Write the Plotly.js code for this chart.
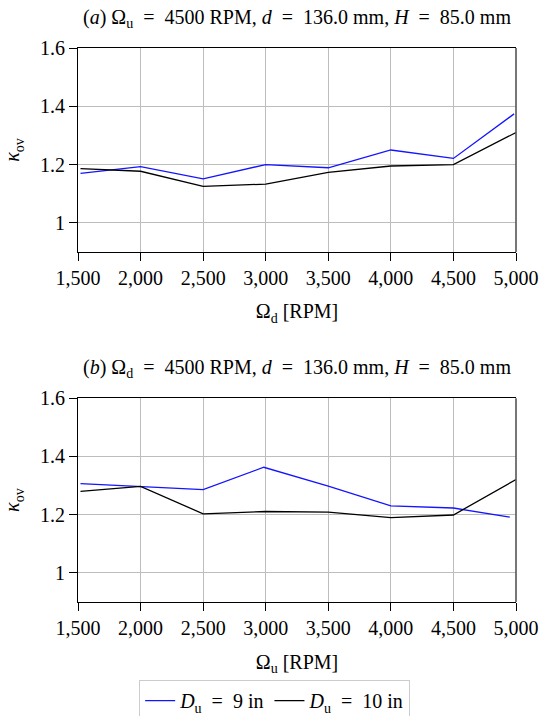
<!DOCTYPE html>
<html>
<head>
<meta charset="utf-8">
<script src="https://cdn.plot.ly/plotly-3.0.1.min.js"></script>
<style>
  html, body { margin: 0; padding: 0; background: #fff; }
  #chart { width: 540px; height: 716px; }
</style>
</head>
<body>
<div id="chart"></div>
<script>
// (a) sweep of the downstream speed, upstream fixed at 4500 RPM
const speedA_9in  = [1520, 2000, 2500, 3000, 3500, 4000, 4500, 4985];
const kappaA_9in  = [1.170, 1.193, 1.151, 1.200, 1.189, 1.250, 1.221, 1.374];
const speedA_10in = [1520, 2000, 2500, 3000, 3500, 4000, 4500, 5000];
const kappaA_10in = [1.186, 1.177, 1.125, 1.133, 1.173, 1.195, 1.200, 1.310];

// (b) sweep of the upstream speed, downstream fixed at 4500 RPM
const speedB_9in  = [1520, 2000, 2500, 2985, 3500, 4000, 4500, 4950];
const kappaB_9in  = [1.307, 1.297, 1.286, 1.363, 1.298, 1.230, 1.223, 1.192];
const speedB_10in = [1520, 2000, 2500, 3000, 3500, 4000, 4500, 5000];
const kappaB_10in = [1.280, 1.297, 1.203, 1.211, 1.209, 1.190, 1.199, 1.321];

// wider spacing around "=" as in typeset math
const EQ = '\u2002=\u2002';

const seriesNames = ['<i>D</i><sub>u</sub>' + EQ + '9 in', '<i>D</i><sub>u</sub>' + EQ + '10 in'];
const seriesColors = ['#1414ff', '#000000'];

const FONT = '"Liberation Serif", serif';
const FS = 20;

const traces = [
  { x: speedA_9in,  y: kappaA_9in,  xaxis: 'x',  yaxis: 'y',  name: seriesNames[0], showlegend: true },
  { x: speedA_10in, y: kappaA_10in, xaxis: 'x',  yaxis: 'y',  name: seriesNames[1], showlegend: true },
  { x: speedB_9in,  y: kappaB_9in,  xaxis: 'x2', yaxis: 'y2', name: seriesNames[0], showlegend: false },
  { x: speedB_10in, y: kappaB_10in, xaxis: 'x2', yaxis: 'y2', name: seriesNames[1], showlegend: false }
].map((t, i) => Object.assign(t, {
  type: 'scatter', mode: 'lines',
  line: { color: seriesColors[i % 2], width: 1.3 },
  hoverinfo: 'skip'
}));

function xAxis(anchor, titleText) {
  return {
    anchor: anchor,
    range: [1500, 5000], dtick: 500, tick0: 1500,
    tickformat: ',d',
    showgrid: true, gridcolor: '#bdbdbd', gridwidth: 1,
    zeroline: false,
    showline: true, linecolor: '#000', linewidth: 1, mirror: true,
    ticks: 'outside', ticklen: 8, tickcolor: '#000', tickwidth: 1,
    tickfont: { family: FONT, size: FS, color: '#000' },
    title: { text: titleText, font: { family: FONT, size: FS, color: '#000' }, standoff: 16 },
    automargin: false,
    fixedrange: true
  };
}
function yAxis(anchor, domain) {
  return {
    anchor: anchor, domain: domain,
    range: [0.9, 1.6], dtick: 0.2, tick0: 0,
    showgrid: true, gridcolor: '#bdbdbd', gridwidth: 1,
    zeroline: false,
    showline: true, linecolor: '#000', linewidth: 1, mirror: false,
    ticks: 'outside', ticklen: 8, tickcolor: '#000', tickwidth: 1,
    tickfont: { family: FONT, size: FS, color: '#000' },
    title: { text: '<i>κ</i><sub>ov</sub>', font: { family: FONT, size: FS, color: '#000' }, standoff: 14 },
    automargin: false,
    fixedrange: true
  };
}

const topDomain = [0.6318, 1];
const botDomain = [0, 0.3677];

const titleA = '(<i>a</i>) Ω<sub>u</sub>' + EQ + '4500 RPM, <i>d</i>' + EQ + '136.0 mm, <i>H</i>' + EQ + '85.0 mm';
const titleB = '(<i>b</i>) Ω<sub>d</sub>' + EQ + '4500 RPM, <i>d</i>' + EQ + '136.0 mm, <i>H</i>' + EQ + '85.0 mm';

const layout = {
  width: 540, height: 716,
  margin: { l: 78, r: 24, t: 48, b: 114, autoexpand: false },
  paper_bgcolor: '#fff', plot_bgcolor: '#fff',
  font: { family: FONT, size: FS, color: '#000' },
  xaxis: xAxis('y', 'Ω<sub>d</sub> [RPM]'),
  yaxis: yAxis('x', topDomain),
  xaxis2: xAxis('y2', 'Ω<sub>u</sub> [RPM]'),
  yaxis2: yAxis('x2', botDomain),
  showlegend: true,
  legend: {
    orientation: 'h',
    x: 0.449, xanchor: 'center',
    y: -0.141, yanchor: 'top',
    bordercolor: '#cccccc', borderwidth: 1,
    bgcolor: '#fff',
    font: { family: FONT, size: FS, color: '#000' },
    itemwidth: 30,
    traceorder: 'normal'
  },
  annotations: [
    {
      text: titleA,
      xref: 'paper', yref: 'paper', x: 0.5, y: topDomain[1], yshift: 15,
      xanchor: 'center', yanchor: 'bottom', showarrow: false,
      font: { family: FONT, size: FS, color: '#000' }
    },
    {
      text: titleB,
      xref: 'paper', yref: 'paper', x: 0.5, y: botDomain[1], yshift: 15,
      xanchor: 'center', yanchor: 'bottom', showarrow: false,
      font: { family: FONT, size: FS, color: '#000' }
    }
  ],
  shapes: [
    // right-hand frame edges, drawn a little heavier in gray
    { type: 'line', xref: 'paper', yref: 'paper', x0: 1, x1: 1, y0: topDomain[0], y1: topDomain[1],
      line: { color: '#555', width: 1.6 } },
    { type: 'line', xref: 'paper', yref: 'paper', x0: 1, x1: 1, y0: botDomain[0], y1: botDomain[1],
      line: { color: '#555', width: 1.6 } }
  ]
};

Plotly.newPlot('chart', traces, layout, { staticPlot: true, displayModeBar: false });
</script>
</body>
</html>
